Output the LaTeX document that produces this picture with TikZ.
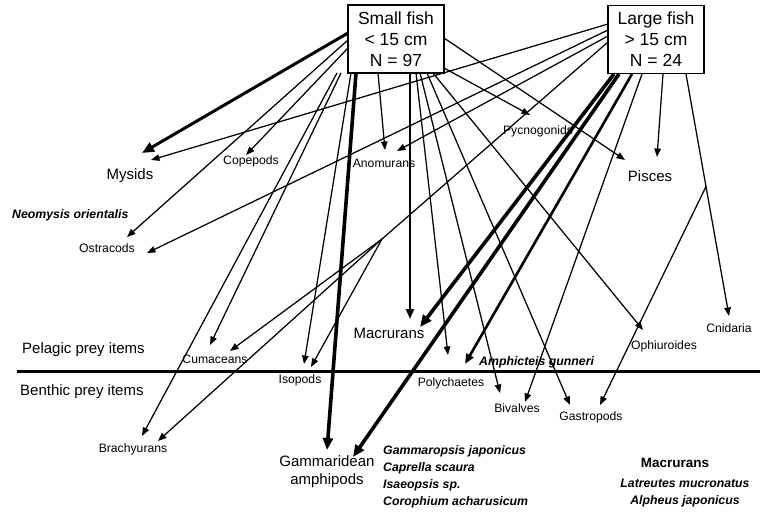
\documentclass[tikz,border=0pt]{standalone}
\usepackage{fontspec}
\setmainfont{Liberation Sans}
\usetikzlibrary{arrows.meta,calc}
\begin{document}
\begin{tikzpicture}[x=1pt,y=-1pt,
  thinarr/.style={draw,line width=1.25pt,-{Triangle[length=8.5pt,width=6.5pt]}},
  medarr/.style={draw,line width=2.3pt,-{Triangle[length=10pt,width=8pt]}},
  thickarr/.style={draw,line width=3.6pt,-{Triangle[length=12pt,width=10pt]}},
  plainline/.style={draw,line width=1.25pt},
  fishbox/.style={draw,fill=white,line width=1.2pt,minimum width=96pt,minimum height=68pt,align=center,inner sep=0pt,font=\fontsize{17.5}{21}\selectfont},
  biglbl/.style={inner sep=0pt,font=\fontsize{15}{18}\selectfont},
  lbl/.style={inner sep=0pt,font=\fontsize{12.2}{14}\selectfont},
  spc/.style={inner sep=0pt,font=\fontsize{12.3}{17}\selectfont\bfseries\itshape}]
\useasboundingbox (0,0) rectangle (763,513);
% ---------- start points on Small fish box ----------
\coordinate (s1) at (348,33);
\coordinate (s2) at (348,48);
\coordinate (s3) at (348,40);
\coordinate (s4) at (341,73);
\coordinate (s5) at (337,73);
\coordinate (s6) at (351,73);
\coordinate (s7) at (356,73);
\coordinate (s8) at (378,73);
\coordinate (s9) at (410,73);
\coordinate (s10) at (416,73);
\coordinate (s11) at (420,73);
\coordinate (s12) at (427,73);
\coordinate (s13) at (433,73);
\coordinate (s14) at (444,38);
\coordinate (s15) at (444,68);
% ---------- start points on Large fish box ----------
\coordinate (l1) at (608,24);
\coordinate (l2) at (608,30);
\coordinate (l3) at (608,36);
\coordinate (l4) at (608,42);
\coordinate (l5) at (619,74);
\coordinate (l6) at (614,74);
\coordinate (l7) at (632,74);
\coordinate (l8) at (642,74);
\coordinate (l9) at (663,74);
\coordinate (l10) at (686,74);
% ---------- arrow tips ----------
\coordinate (mys1) at (142,153);
\coordinate (mys2) at (151,160);
\coordinate (cop) at (246,155);
\coordinate (ost1) at (127,237);
\coordinate (ost2) at (147,253);
\coordinate (cum1) at (210,345);
\coordinate (cum2) at (230,351);
\coordinate (bra1) at (142,436);
\coordinate (bra2) at (158,441);
\coordinate (iso1) at (304,364);
\coordinate (iso2) at (311,367);
\coordinate (gam1) at (327,450);
\coordinate (gam2) at (353,457);
\coordinate (ano1) at (385,150);
\coordinate (ano2) at (397,151);
\coordinate (mac1) at (410,319);
\coordinate (mac2) at (420,327);
\coordinate (pol1) at (448,355);
\coordinate (pol2) at (465,364);
\coordinate (biv1) at (500,393);
\coordinate (biv2) at (525,402);
\coordinate (gas1) at (570,405);
\coordinate (gas2) at (600,405);
\coordinate (oph) at (643,330);
\coordinate (cni) at (729,316);
\coordinate (pyc) at (530,115);
\coordinate (pis1) at (625,160);
\coordinate (pis2) at (657,157);
\coordinate (lbr) at (382,239);
\coordinate (gbr) at ($(l10)!0.465!(cni)$);
% ---------- separator ----------
\draw[line width=3pt] (17,371) -- (760,371);
% ---------- Small fish arrows ----------
\draw[thickarr,line width=3pt] (s1) -- (mys1);
\draw[thinarr] (s2) -- (cop);
\draw[thinarr] (s3) -- (ost1);
\draw[thinarr] (s4) -- (cum1);
\draw[thinarr] (s5) -- (bra1);
\draw[thinarr] (s6) -- (iso1);
\draw[thickarr] (s7) -- (gam1);
\draw[thinarr] (s8) -- (ano1);
\draw[medarr] (s9) -- (mac1);
\draw[thinarr] (s10) -- (pol1);
\draw[thinarr] (s11) -- (biv1);
\draw[thinarr] (s12) -- (gas1);
\draw[thinarr] (s13) -- (oph);
\draw[thinarr] (s14) -- (pis1);
\draw[thinarr] (s15) -- (pyc);
% ---------- Large fish arrows ----------
\draw[thinarr] (l1) -- (mys2);
\draw[thinarr] (l2) -- (ost2);
\draw[thinarr] (l3) -- (ano2);
\draw[plainline] (l4) -- (lbr);
\draw[thinarr] (lbr) -- (cum2);
\draw[thinarr] (lbr) -- (iso2);
\draw[thinarr] (lbr) -- (bra2);
\draw[thickarr] (l5) -- (gam2);
\draw[thickarr] (l6) -- (mac2);
\draw[medarr,line width=2.6pt] (l7) -- (pol2);
\draw[thinarr] (l8) -- (biv2);
\draw[thinarr] (l9) -- (pis2);
\draw[thinarr] (l10) -- (cni);
\draw[thinarr] (gbr) -- (gas2);
% ---------- boxes ----------
\node[fishbox] (S) at (396,39) {Small fish\\< 15 cm\\N = 97};
\node[fishbox] (L) at (656,39.5) {Large fish\\> 15 cm\\N = 24};
% ---------- labels ----------
\node[biglbl] (tmys) at (130,176) {Mysids};
\node[lbl] (tcop) at (251,161) {Copepods};
\node[lbl] (tano) at (384,163) {Anomurans};
\node[lbl] (tpyc) at (538,131) {Pycnogonids};
\node[biglbl] (tpis) at (650,176) {Pisces};
\node[spc,anchor=west] (tneo) at (12,215) {Neomysis orientalis};
\node[lbl] (tost) at (107,248) {Ostracods};
\node[biglbl] (tmac) at (389,333) {Macrurans};
\node[biglbl,anchor=west] (tpel) at (22,350) {Pelagic prey items};
\node[biglbl,anchor=west] (tben) at (20,392) {Benthic prey items};
\node[lbl] (tcum) at (215,359) {Cumaceans};
\node[lbl] (tiso) at (300,380) {Isopods};
\node[lbl] (tpol) at (451,383) {Polychaetes};
\node[lbl] (tbiv) at (517,408) {Bivalves};
\node[lbl] (tgas) at (591,417) {Gastropods};
\node[lbl] (toph) at (664,346) {Ophiuroides};
\node[lbl] (tcni) at (729,328) {Cnidaria};
\node[spc,anchor=west] (tamp) at (479,362) {Amphicteis gunneri};
\node[lbl] (tbra) at (133,449) {Brachyurans};
\node[biglbl,align=center] (tgam) at (327,472) {Gammaridean\\amphipods};
\node[spc,anchor=north west,align=left] (tgsp) at (383,445) {Gammaropsis japonicus\\Caprella scaura\\Isaeopsis sp.\\Corophium acharusicum};
\node[inner sep=0pt,font=\fontsize{13.5}{16}\selectfont\bfseries] (tmacb) at (675,463) {Macrurans};
\node[spc] (tlat) at (685,483) {Latreutes mucronatus};
\node[spc] (talp) at (685,501) {Alpheus japonicus};
\end{tikzpicture}
\end{document}
